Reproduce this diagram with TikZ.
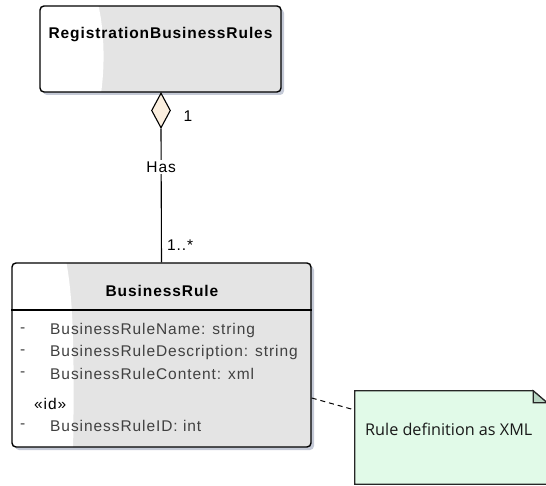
\documentclass[tikz,border=0pt]{standalone}
\usepackage{fontspec}
\setmainfont{Liberation Sans}
\newfontfamily\umlfont[LetterSpace=6]{Liberation Sans}
\newfontfamily\notefont{Open Sans}
\usetikzlibrary{shapes.geometric}
\definecolor{boxgray}{HTML}{E4E4E4}
\definecolor{shadowc}{HTML}{C4C9D6}
\definecolor{aggfill}{HTML}{FBEFDF}
\definecolor{notefill}{HTML}{E1FAE8}
\definecolor{foldfill}{HTML}{B7D6C2}
\definecolor{attrc}{HTML}{404040}
\tikzset{
  umlbox/.style={draw=black, line width=1.4pt, rounded corners=4pt, inner sep=0pt},
  boxshadow/.style={fill=shadowc, rounded corners=4pt},
  boxbody/.style={fill=boxgray, rounded corners=4pt},
  titletext/.style={font=\umlfont\bfseries\fontsize{15.5}{18}\selectfont, inner sep=0pt},
  attrtext/.style={font=\umlfont\fontsize{15.5}{18}\selectfont, text=attrc, anchor=west, inner sep=0pt},
  multtext/.style={font=\umlfont\fontsize{15.5}{18}\selectfont, inner sep=0pt},
  conn/.style={draw=black, line width=1.1pt},
}
\begin{document}
\begin{tikzpicture}[x=1pt,y=-1pt]
\useasboundingbox (0,0) rectangle (546,486);
% top class
\fill[boxshadow] (43,9) rectangle (284,95);
\fill[boxbody] (40,6) rectangle (281,92);
\begin{scope}
  \clip[rounded corners=4pt] (40,6) rectangle (281,92);
  \fill[white] (35,0) -- (97,0) .. controls (104,25) and (106,65) .. (100,100) -- (35,100) -- cycle;
\end{scope}
\node[umlbox, minimum width=241pt, minimum height=86pt] (rbr) at (160.5,49) {};
\node[titletext] (rbrt) at (160.5,35) {RegistrationBusinessRules};
% aggregation diamond
\node[diamond, draw=black, line width=1.1pt, fill=aggfill, minimum width=19pt, minimum height=35pt, inner sep=0pt]
  (agg) at (161,110.5) {};
% BusinessRule class
\fill[boxshadow] (15,266) rectangle (314,450);
\fill[boxbody] (12,263) rectangle (311,447);
\begin{scope}
  \clip[rounded corners=4pt] (12,263) rectangle (311,447);
  \fill[white] (5,255) -- (65,255) .. controls (72,290) and (75,330) .. (73,455) -- (5,455) -- cycle;
\end{scope}
\node[umlbox, minimum width=299pt, minimum height=184pt] (br) at (161.5,355) {};
\draw[line width=1.1pt] (br.west |- 0,310) -- (br.east |- 0,310);
\node[titletext] (brt) at (162,291) {BusinessRule};
\node[attrtext] (d1) at (20,330) {-};
\node[attrtext] (a1) at (50,330) {BusinessRuleName: string};
\node[attrtext] (d2) at (20,352) {-};
\node[attrtext] (a2) at (50,352) {BusinessRuleDescription: string};
\node[attrtext] (d3) at (20,374) {-};
\node[attrtext] (a3) at (50,374) {BusinessRuleContent: xml};
\node[attrtext, text=black] (st) at (34,404) {«id»};
\node[attrtext] (d4) at (20,426) {-};
\node[attrtext] (a4) at (50,426) {BusinessRuleID: int};
% association
\draw[conn] (agg.south) -- node[pos=0.289, fill=white, inner sep=1.5pt, font=\umlfont\fontsize{15.5}{18}\selectfont] (has) {Has} (br.north);
\node[multtext] (m1) at (188,116) {1};
\node[multtext, anchor=west] (m2) at (167,245) {1..*};
% note
\node[minimum width=192pt, minimum height=93pt, inner sep=0pt] (note) at (451,437.5) {};
\fill[notefill] (note.north west) -- ([xshift=-14pt]note.north east) -- ([yshift=-12pt]note.north east) -- (note.south east) -- (note.south west) -- cycle;
\draw[line width=1.2pt, draw=black!85] (note.north west) -- ([xshift=-14pt]note.north east) -- ([yshift=-12pt]note.north east) -- (note.south east) -- (note.south west) -- cycle;
\filldraw[fill=foldfill, draw=black!85, line width=1.2pt] ([xshift=-14pt]note.north east) -- ([xshift=-14pt,yshift=-12pt]note.north east) -- ([yshift=-12pt]note.north east) -- cycle;
\node[font=\notefont\fontsize{16.2}{19}\selectfont, text=black!90, anchor=west, inner sep=0pt] (nt) at (365,429) {Rule definition as XML};
\draw[line width=1pt, dash pattern=on 5pt off 4pt] ([yshift=-43pt]br.east) -- ([yshift=27.5pt]note.west);
\end{tikzpicture}
\end{document}
